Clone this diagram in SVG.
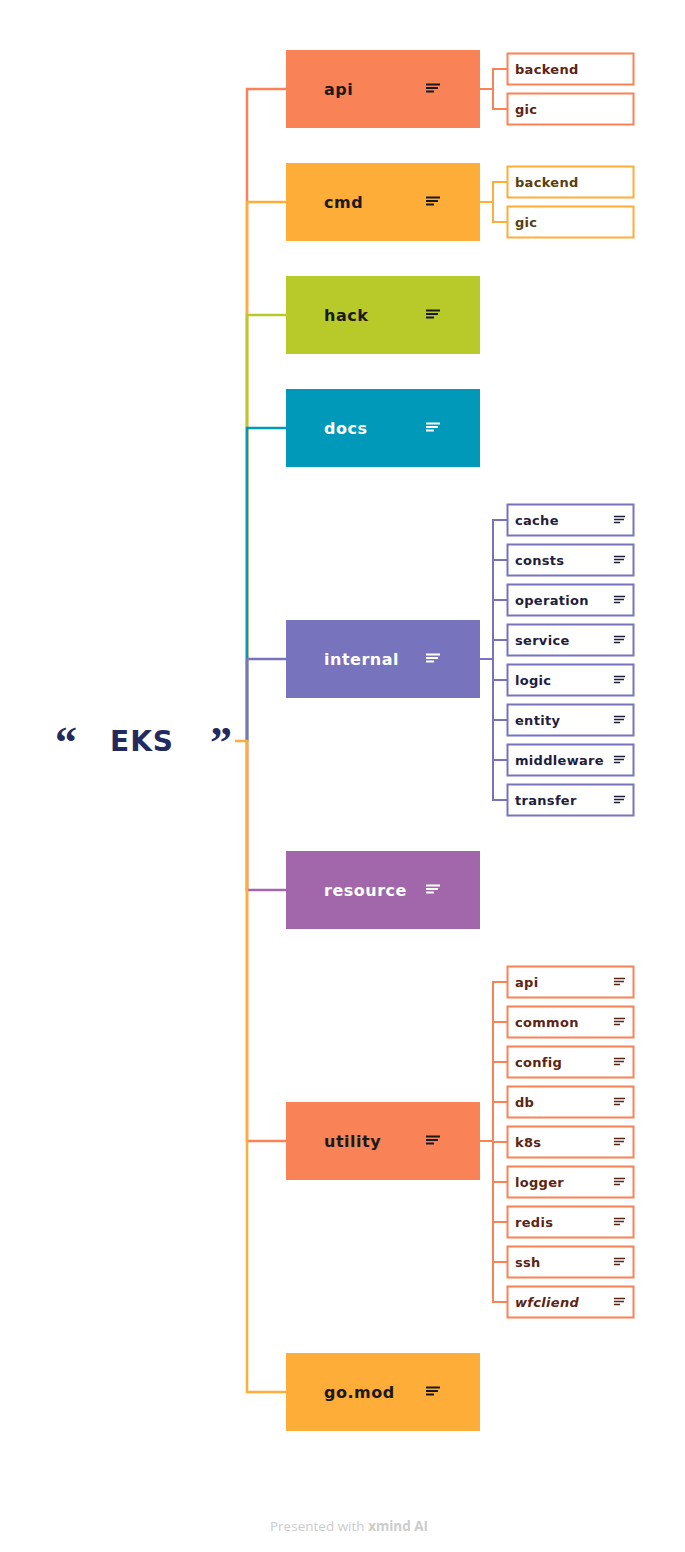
<svg xmlns="http://www.w3.org/2000/svg" width="685" height="1552" viewBox="0 0 685 1552">
<style>
.bg{fill:#ffffff}
.mt{font-family:"DejaVu Sans",sans-serif;font-weight:bold;font-size:16px;letter-spacing:0.5px}
.st{font-family:"DejaVu Sans",sans-serif;font-weight:bold;font-size:13px;letter-spacing:0.3px}
.dk{fill:#1A1A1A}
.wt{fill:#FFFFFF}
.ico{stroke-width:2;fill:none;stroke-linecap:butt}
.sico{stroke-width:1.4;fill:none}
.con{fill:none;stroke-width:2.5;stroke-linejoin:miter}
.scon{fill:none;stroke-width:2;stroke-linejoin:miter}
.sub{fill:#ffffff;stroke-width:2}
</style>
<rect class="bg" x="0" y="0" width="685" height="1552"/>

<g id="connectors">
  <path class="con" stroke="#FA8257" d="M247,741 V89 H286"/>
  <path class="con" stroke="#FEAD39" d="M247,741 V202 H286"/>
  <path class="con" stroke="#B8C92A" d="M247,741 V315 H286"/>
  <path class="con" stroke="#0099B9" d="M247,741 V428 H286"/>
  <path class="con" stroke="#7773BD" d="M247,741 V659 H286"/>
  <path class="con" stroke="#A167AA" d="M247,741 V890 H286"/>
  <path class="con" stroke="#FA8257" d="M247,741 V1141 H286"/>
  <path class="con" stroke="#FEAD39" d="M235,741 H247 V1392 H286"/>

  <path class="scon" stroke="#FA8257" d="M480,89 H493 M507,69 H493 V109 H507"/>
  <path class="scon" stroke="#FEAD39" d="M480,202 H493 M507,182 H493 V222 H507"/>
  <path class="scon" stroke="#7773BD" d="M480,659 H493 M507,520 H493 V800 H507 M493,560 H507 M493,600 H507 M493,640 H507 M493,680 H507 M493,720 H507 M493,760 H507"/>
  <path class="scon" stroke="#FA8257" d="M480,1141 H493 M507,982 H493 V1302 H507 M493,1022 H507 M493,1062 H507 M493,1102 H507 M493,1142 H507 M493,1182 H507 M493,1222 H507 M493,1262 H507"/>
</g>

<g id="center">
  <text x="55" y="757" font-family="Liberation Serif,serif" font-weight="bold" font-size="44" fill="#252A5E">“</text>
  <text x="110" y="751" font-family="DejaVu Sans,sans-serif" font-weight="bold" font-size="28" letter-spacing="1" fill="#252A5E">EKS</text>
  <text x="210" y="757" font-family="Liberation Serif,serif" font-weight="bold" font-size="44" fill="#252A5E">”</text>
</g>

<g id="node-api">
  <rect x="286" y="50" width="194" height="78" fill="#FA8257"/>
  <text class="mt dk" x="324" y="95">api</text>
  <path class="ico" stroke="#1A1A1A" d="M426,84.5 H440 M426,88 H438 M426,91.5 H434"/>
</g>
<g id="node-cmd">
  <rect x="286" y="163" width="194" height="78" fill="#FEAD39"/>
  <text class="mt dk" x="324" y="208">cmd</text>
  <path class="ico" stroke="#1A1A1A" d="M426,197.5 H440 M426,201 H438 M426,204.5 H434"/>
</g>
<g id="node-hack">
  <rect x="286" y="276" width="194" height="78" fill="#B8C92A"/>
  <text class="mt dk" x="324" y="321">hack</text>
  <path class="ico" stroke="#1A1A1A" d="M426,310.5 H440 M426,314 H438 M426,317.5 H434"/>
</g>
<g id="node-docs">
  <rect x="286" y="389" width="194" height="78" fill="#0099B9"/>
  <text class="mt wt" x="324" y="434">docs</text>
  <path class="ico" stroke="#FFFFFF" d="M426,423.5 H440 M426,427 H438 M426,430.5 H434"/>
</g>
<g id="node-internal">
  <rect x="286" y="620" width="194" height="78" fill="#7773BD"/>
  <text class="mt wt" x="324" y="665">internal</text>
  <path class="ico" stroke="#FFFFFF" d="M426,654.5 H440 M426,658 H438 M426,661.5 H434"/>
</g>
<g id="node-resource">
  <rect x="286" y="851" width="194" height="78" fill="#A167AA"/>
  <text class="mt wt" x="324" y="896">resource</text>
  <path class="ico" stroke="#FFFFFF" d="M426,885.5 H440 M426,889 H438 M426,892.5 H434"/>
</g>
<g id="node-utility">
  <rect x="286" y="1102" width="194" height="78" fill="#FA8257"/>
  <text class="mt dk" x="324" y="1147">utility</text>
  <path class="ico" stroke="#1A1A1A" d="M426,1136.5 H440 M426,1140 H438 M426,1143.5 H434"/>
</g>
<g id="node-gomod">
  <rect x="286" y="1353" width="194" height="78" fill="#FEAD39"/>
  <text class="mt dk" x="324" y="1398">go.mod</text>
  <path class="ico" stroke="#1A1A1A" d="M426,1387.5 H440 M426,1391 H438 M426,1394.5 H434"/>
</g>

<g id="api-backend"><rect class="sub" stroke="#FA8257" x="507.5" y="53.5" width="126" height="31"/><text class="st" fill="#5C2414" x="515" y="74">backend</text></g>
<g id="api-gic"><rect class="sub" stroke="#FA8257" x="507.5" y="93.5" width="126" height="31"/><text class="st" fill="#5C2414" x="515" y="114">gic</text></g>
<g id="cmd-backend"><rect class="sub" stroke="#FEAD39" x="507.5" y="166.5" width="126" height="31"/><text class="st" fill="#5C3D0B" x="515" y="187">backend</text></g>
<g id="cmd-gic"><rect class="sub" stroke="#FEAD39" x="507.5" y="206.5" width="126" height="31"/><text class="st" fill="#5C3D0B" x="515" y="227">gic</text></g>

<g id="internal-cache"><rect class="sub" stroke="#7773BD" x="507.5" y="504.5" width="126" height="31"/><text class="st" fill="#1F1D3D" x="515" y="525">cache</text><path class="sico" stroke="#1F1D3D" d="M614,516.5 H625 M614,519.5 H624 M614,522.5 H620"/></g>
<g id="internal-consts"><rect class="sub" stroke="#7773BD" x="507.5" y="544.5" width="126" height="31"/><text class="st" fill="#1F1D3D" x="515" y="565">consts</text><path class="sico" stroke="#1F1D3D" d="M614,556.5 H625 M614,559.5 H624 M614,562.5 H620"/></g>
<g id="internal-operation"><rect class="sub" stroke="#7773BD" x="507.5" y="584.5" width="126" height="31"/><text class="st" fill="#1F1D3D" x="515" y="605">operation</text><path class="sico" stroke="#1F1D3D" d="M614,596.5 H625 M614,599.5 H624 M614,602.5 H620"/></g>
<g id="internal-service"><rect class="sub" stroke="#7773BD" x="507.5" y="624.5" width="126" height="31"/><text class="st" fill="#1F1D3D" x="515" y="645">service</text><path class="sico" stroke="#1F1D3D" d="M614,636.5 H625 M614,639.5 H624 M614,642.5 H620"/></g>
<g id="internal-logic"><rect class="sub" stroke="#7773BD" x="507.5" y="664.5" width="126" height="31"/><text class="st" fill="#1F1D3D" x="515" y="685">logic</text><path class="sico" stroke="#1F1D3D" d="M614,676.5 H625 M614,679.5 H624 M614,682.5 H620"/></g>
<g id="internal-entity"><rect class="sub" stroke="#7773BD" x="507.5" y="704.5" width="126" height="31"/><text class="st" fill="#1F1D3D" x="515" y="725">entity</text><path class="sico" stroke="#1F1D3D" d="M614,716.5 H625 M614,719.5 H624 M614,722.5 H620"/></g>
<g id="internal-middleware"><rect class="sub" stroke="#7773BD" x="507.5" y="744.5" width="126" height="31"/><text class="st" fill="#1F1D3D" x="515" y="765">middleware</text><path class="sico" stroke="#1F1D3D" d="M614,756.5 H625 M614,759.5 H624 M614,762.5 H620"/></g>
<g id="internal-transfer"><rect class="sub" stroke="#7773BD" x="507.5" y="784.5" width="126" height="31"/><text class="st" fill="#1F1D3D" x="515" y="805">transfer</text><path class="sico" stroke="#1F1D3D" d="M614,796.5 H625 M614,799.5 H624 M614,802.5 H620"/></g>

<g id="utility-api"><rect class="sub" stroke="#FA8257" x="507.5" y="966.5" width="126" height="31"/><text class="st" fill="#5C2414" x="515" y="987">api</text><path class="sico" stroke="#5C2414" d="M614,978.5 H625 M614,981.5 H624 M614,984.5 H620"/></g>
<g id="utility-common"><rect class="sub" stroke="#FA8257" x="507.5" y="1006.5" width="126" height="31"/><text class="st" fill="#5C2414" x="515" y="1027">common</text><path class="sico" stroke="#5C2414" d="M614,1018.5 H625 M614,1021.5 H624 M614,1024.5 H620"/></g>
<g id="utility-config"><rect class="sub" stroke="#FA8257" x="507.5" y="1046.5" width="126" height="31"/><text class="st" fill="#5C2414" x="515" y="1067">config</text><path class="sico" stroke="#5C2414" d="M614,1058.5 H625 M614,1061.5 H624 M614,1064.5 H620"/></g>
<g id="utility-db"><rect class="sub" stroke="#FA8257" x="507.5" y="1086.5" width="126" height="31"/><text class="st" fill="#5C2414" x="515" y="1107">db</text><path class="sico" stroke="#5C2414" d="M614,1098.5 H625 M614,1101.5 H624 M614,1104.5 H620"/></g>
<g id="utility-k8s"><rect class="sub" stroke="#FA8257" x="507.5" y="1126.5" width="126" height="31"/><text class="st" fill="#5C2414" x="515" y="1147">k8s</text><path class="sico" stroke="#5C2414" d="M614,1138.5 H625 M614,1141.5 H624 M614,1144.5 H620"/></g>
<g id="utility-logger"><rect class="sub" stroke="#FA8257" x="507.5" y="1166.5" width="126" height="31"/><text class="st" fill="#5C2414" x="515" y="1187">logger</text><path class="sico" stroke="#5C2414" d="M614,1178.5 H625 M614,1181.5 H624 M614,1184.5 H620"/></g>
<g id="utility-redis"><rect class="sub" stroke="#FA8257" x="507.5" y="1206.5" width="126" height="31"/><text class="st" fill="#5C2414" x="515" y="1227">redis</text><path class="sico" stroke="#5C2414" d="M614,1218.5 H625 M614,1221.5 H624 M614,1224.5 H620"/></g>
<g id="utility-ssh"><rect class="sub" stroke="#FA8257" x="507.5" y="1246.5" width="126" height="31"/><text class="st" fill="#5C2414" x="515" y="1267">ssh</text><path class="sico" stroke="#5C2414" d="M614,1258.5 H625 M614,1261.5 H624 M614,1264.5 H620"/></g>
<g id="utility-wfcliend"><rect class="sub" stroke="#FA8257" x="507.5" y="1286.5" width="126" height="31"/><text class="st" fill="#5C2414" x="515" y="1307" font-style="italic">wfcliend</text><path class="sico" stroke="#5C2414" d="M614,1298.5 H625 M614,1301.5 H624 M614,1304.5 H620"/></g>

<text x="349" y="1531" text-anchor="middle" font-family="Open Sans,sans-serif" font-size="13.5" fill="#CCCCCC">Presented with <tspan font-weight="bold">xmind AI</tspan></text>
</svg>
